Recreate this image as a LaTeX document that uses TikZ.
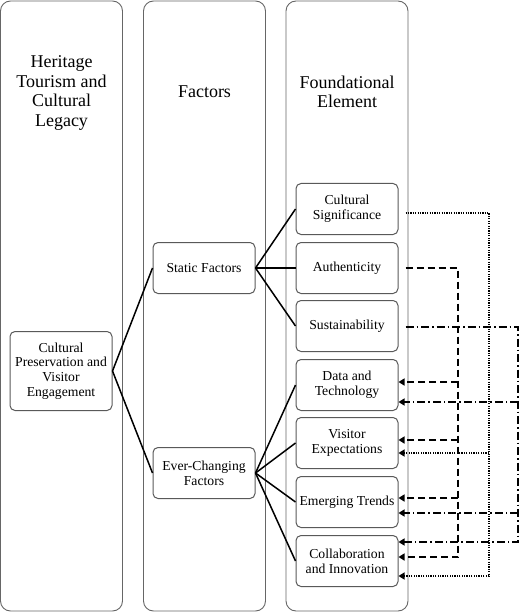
\documentclass[tikz,border=0pt]{standalone}
\usepackage{fontspec}
\setmainfont{Liberation Serif}
\usetikzlibrary{arrows.meta}
\begin{document}
\begin{tikzpicture}[x=1pt,y=-1pt,
 colbox/.style={draw=black!60, line width=0.9pt, rounded corners=10pt, minimum width=122pt, minimum height=610pt, inner sep=0pt},
 ttl/.style={align=center, font=\fontsize{18}{19.5}\selectfont, inner sep=0pt},
 box/.style={draw=black!65, line width=1pt, rounded corners=5pt, minimum width=102pt, minimum height=51pt, align=center, inner sep=1pt, font=\fontsize{13.7}{14.8}\selectfont},
 link/.style={line width=1.5pt},
 tip/.style={-{Triangle[length=6pt,width=7pt]}},
 dotl/.style={tip, line width=1.3pt, dash pattern=on 1.2pt off 1.2pt},
 dashl/.style={tip, line width=2pt, dash pattern=on 7pt off 4pt},
 ddl/.style={tip, line width=1.4pt, dash pattern=on 8pt off 3pt on 1.5pt off 3pt}]
\useasboundingbox (0,0) rectangle (520,612);
% columns
\node[colbox] (c1) at (61.5,306) {};
\node[colbox] (c2) at (204.5,306) {};
\node[colbox] (c3) at (347,306) {};
\node[ttl] (t1) at (61.5,93) {Heritage\\Tourism and\\Cultural\\Legacy};
\node[ttl] (t2) at (204.5,92) {Factors};
\node[ttl] (t3) at (347,92) {Foundational\\Element};
% nodes
\node[box, minimum height=79pt] (cp) at (61,371) {Cultural\\Preservation and\\Visitor\\Engagement};
\node[box] (sf) at (204,268) {Static Factors};
\node[box] (ec) at (204,473) {Ever-Changing\\Factors};
\node[box] (cs) at (347,209) {Cultural\\Significance};
\node[box] (au) at (347,268) {Authenticity};
\node[box] (su) at (347,326) {Sustainability};
\node[box] (dt) at (347,385) {Data and\\Technology};
\node[box] (ve) at (347,443) {Visitor\\Expectations};
\node[box] (et) at (347,502) {Emerging Trends};
\node[box] (co) at (347,561) {Collaboration\\and Innovation};
% tree links
\draw[link] (cp.east) -- (sf.west);
\draw[link] (cp.east) -- (ec.west);
\draw[link] (sf.east) -- (cs.west);
\draw[link] (sf.east) -- (au.west);
\draw[link] (sf.east) -- (su.west);
\draw[link] (ec.east) -- (dt.west);
\draw[link] (ec.east) -- (ve.west);
\draw[link] (ec.east) -- (et.west);
\draw[link] (ec.east) -- (co.west);
% branch coordinates
\coordinate (dotA) at (489,453);
\coordinate (dotB) at (489,576);
\coordinate (dshA) at (458,382);
\coordinate (dshB) at (458,440);
\coordinate (dshC) at (458,498);
\coordinate (dshD) at (458,557);
\coordinate (ddA) at (518,402);
\coordinate (ddB) at (518,513);
\coordinate (ddC) at (518,542);
% dotted from Cultural Significance
\draw[dotl] ([xshift=7pt,yshift=-4pt]cs.east) -| (dotB) -- (co.east |- dotB);
\draw[dotl] (dotA) -- (ve.east |- dotA);
% dashed from Authenticity
\draw[dashl] ([xshift=7pt]au.east) -| (dshD) -- (co.east |- dshD);
\draw[dashl] (dshA) -- (dt.east |- dshA);
\draw[dashl] (dshB) -- (ve.east |- dshB);
\draw[dashl] (dshC) -- (et.east |- dshC);
% dash-dot from Sustainability
\draw[ddl] ([xshift=7pt,yshift=-1pt]su.east) -| (ddC) -- (co.east |- ddC);
\draw[ddl] (ddA) -- (dt.east |- ddA);
\draw[ddl] (ddB) -- (et.east |- ddB);
\end{tikzpicture}
\end{document}
